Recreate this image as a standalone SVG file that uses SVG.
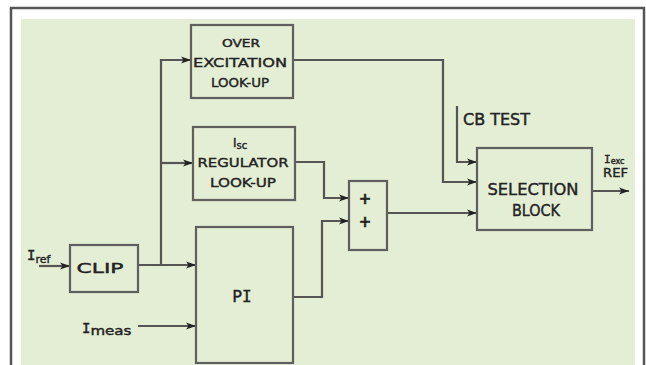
<svg xmlns="http://www.w3.org/2000/svg" width="646" height="365" viewBox="0 0 646 365">
<style>
.blk{fill:none;stroke:#5f5f5f;stroke-width:2.2}
.ar{fill:none;stroke:#555;stroke-width:2.2;marker-end:url(#ah)}
text{font-family:"DejaVu Sans","Liberation Sans",sans-serif;fill:#222;stroke:#222;stroke-width:0.4}
.c{text-anchor:middle}
.m{font-family:"DejaVu Sans Mono","Liberation Mono",monospace}
</style>
<defs>
<marker id="ah" viewBox="0 0 10 8" refX="10" refY="4" markerWidth="10" markerHeight="8" markerUnits="userSpaceOnUse" orient="auto">
<path d="M0,0.5 L10,4 L0,7.5 L2.5,4 Z" fill="#222"/>
</marker>
</defs>
<rect x="0" y="0" width="646" height="365" fill="#ffffff"/>
<rect x="21" y="19" width="614" height="346" fill="#e3eed4"/>
<path d="M11,365 V8 H644 V365" fill="none" stroke="#555" stroke-width="2.5"/>

<g id="connectors">
<path class="ar" d="M39,266 H70"/>
<path class="ar" d="M138,265 H196"/>
<path class="ar" d="M161,265 V60 H191"/>
<path class="ar" d="M161,163 H193"/>
<path class="ar" d="M138,326 H196"/>
<path class="ar" d="M293,60 H443 V182 H477"/>
<path class="ar" d="M295,162 H324 V198 H349"/>
<path class="ar" d="M293,297 H322 V221 H349"/>
<path class="ar" d="M387,213 H477"/>
<path class="ar" d="M457,106 V162 H477"/>
<path class="ar" d="M592,191 H629"/>
</g>

<g id="overexcitation">
<rect class="blk" x="191" y="25" width="102" height="73"/>
<text class="c" x="241" y="47" font-size="11" textLength="38" lengthAdjust="spacingAndGlyphs">OVER</text>
<text class="c" x="240" y="67" font-size="13" textLength="94" lengthAdjust="spacingAndGlyphs">EXCITATION</text>
<text class="c" x="240" y="87" font-size="13" textLength="58" lengthAdjust="spacingAndGlyphs">LOOK-UP</text>
</g>

<g id="isc_regulator">
<rect class="blk" x="193" y="127" width="102" height="73"/>
<text x="233" y="147" font-size="12">I<tspan font-size="10" dy="2">sc</tspan></text>
<text class="c" x="243" y="167" font-size="13" textLength="91" lengthAdjust="spacingAndGlyphs">REGULATOR</text>
<text class="c" x="243" y="187" font-size="13" textLength="66" lengthAdjust="spacingAndGlyphs">LOOK-UP</text>
</g>

<g id="clip">
<rect class="blk" x="70" y="245" width="68" height="47"/>
<text class="c" x="100" y="273" font-size="14" textLength="47" lengthAdjust="spacingAndGlyphs">CLIP</text>
</g>

<g id="pi">
<rect class="blk" x="196" y="227" width="97" height="136"/>
<text class="c" x="242" y="302" font-size="16">P<tspan class="m">I</tspan></text>
</g>

<g id="summer">
<rect class="blk" x="349" y="181" width="38" height="69"/>
<text class="c" x="365" y="204" font-size="15" font-weight="bold">+</text>
<text class="c" x="365" y="227" font-size="15" font-weight="bold">+</text>
</g>

<g id="selection">
<rect class="blk" x="477" y="148" width="115" height="82"/>
<text class="c" x="533" y="195" font-size="16" textLength="91" lengthAdjust="spacingAndGlyphs">SELECTION</text>
<text class="c" x="536" y="216" font-size="16" textLength="48" lengthAdjust="spacingAndGlyphs">BLOCK</text>
</g>

<g id="labels">
<text x="463" y="125" font-size="15" textLength="67" lengthAdjust="spacingAndGlyphs">CB TEST</text>
<text x="27" y="260" font-size="14"><tspan class="m">I</tspan><tspan font-size="11" dy="3">ref</tspan></text>
<text x="82" y="333" font-size="14"><tspan class="m">I</tspan><tspan font-size="12" dy="2" textLength="41" lengthAdjust="spacingAndGlyphs">meas</tspan></text>
<text x="604" y="163" font-size="11"><tspan class="m">I</tspan><tspan font-size="8" dy="1">exc</tspan></text>
<text x="603" y="177" font-size="13" textLength="25" lengthAdjust="spacingAndGlyphs">REF</text>
</g>
</svg>
